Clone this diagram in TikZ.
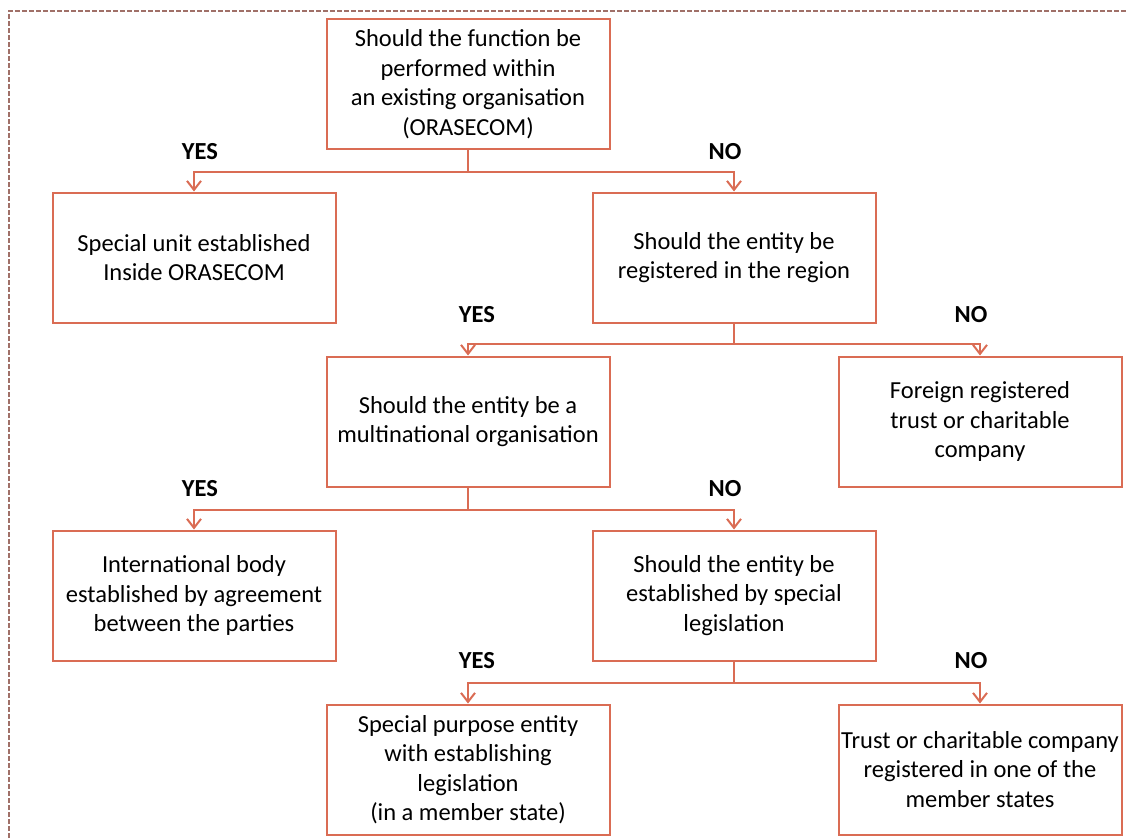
\documentclass[tikz,border=0pt]{standalone}
\usepackage{fontspec}
\setmainfont{Carlito}
\usetikzlibrary{arrows.meta}
\definecolor{boxred}{RGB}{218,108,84}
\definecolor{framegray}{RGB}{160,112,104}
\begin{document}
\begin{tikzpicture}[x=1pt, y=-1pt,
    box/.style={draw=boxred, line width=2pt, minimum width=283pt, minimum height=130pt,
        inner sep=0pt, align=center, font=\fontsize{24.5}{29.5}\selectfont},
    ans/.style={font=\fontsize{24.5}{29.5}\selectfont\bfseries},
    link/.style={draw=boxred, line width=2pt, -{Straight Barb[length=9pt,width=14pt]}}]
    \useasboundingbox (0,0) rectangle (1126,838);

    % Dashed frame
    \draw[framegray, line width=1.2pt, dash pattern=on 5pt off 2pt] (9,838) -- (9,11) -- (1126,11);

    % Decision boxes
    \node[box] (q1) at (468,84) {Should the function be\\performed within\\an existing organisation\\(ORASECOM)};
    \node[box] (unit) at (194,257.5) {Special unit established\\Inside ORASECOM};
    \node[box] (q2) at (734,257.5) {Should the entity be\\registered in the region};
    \node[box] (q3) at (468,421.5) {Should the entity be a\\multinational organisation};
    \node[box] (foreign) at (980,421.5) {Foreign registered\\trust or charitable\\company};
    \node[box] (intl) at (194,595.5) {International body\\established by agreement\\between the parties};
    \node[box] (q4) at (734,595.5) {Should the entity be\\established by special\\legislation};
    \node[box] (spe) at (468,769.5) {Special purpose entity\\with establishing\\legislation\\(in a member state)};
    \node[box] (trust) at (980,769.5) {Trust or charitable company\\registered in one of the\\member states};

    % Connectors
    \draw[link] (q1.south) -- ++(0,22) -| (unit.north);
    \draw[link] (q1.south) -- ++(0,22) -| (q2.north);
    \draw[link] (q2.south) -- ++(0,20) -| (q3.north);
    \draw[link] (q2.south) -- ++(0,20) -| (foreign.north);
    \draw[link] (q3.south) -- ++(0,22) -| (intl.north);
    \draw[link] (q3.south) -- ++(0,22) -| (q4.north);
    \draw[link] (q4.south) -- ++(0,21) -| (spe.north);
    \draw[link] (q4.south) -- ++(0,21) -| (trust.north);

    % Answers
    \node[ans] (yes1) at (200,152) {YES};
    \node[ans] (no1) at (725,152) {NO};
    \node[ans] (yes2) at (477,315) {YES};
    \node[ans] (no2) at (971,315) {NO};
    \node[ans] (yes3) at (200,489) {YES};
    \node[ans] (no3) at (725,489) {NO};
    \node[ans] (yes4) at (477,661) {YES};
    \node[ans] (no4) at (971,661) {NO};
\end{tikzpicture}
\end{document}
